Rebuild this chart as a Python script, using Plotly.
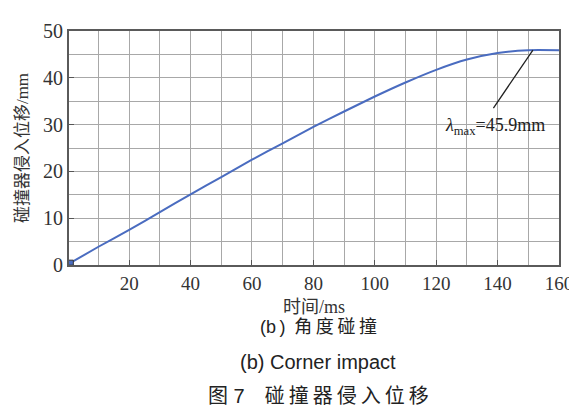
import plotly.graph_objects as go

time_ms = [1, 10, 20, 30, 40, 50, 60, 70, 80, 90, 100, 110, 120, 130, 140, 150, 160]
disp_mm = [0.5, 3.9, 7.5, 11.3, 15.1, 18.8, 22.5, 26.0, 29.5, 32.8, 36.0, 39.0, 41.7, 43.9, 45.3, 45.9, 45.9]
x_ticks = [20, 40, 60, 80, 100, 120, 140, 160]
y_ticks = [0, 10, 20, 30, 40, 50]
lam_max = 45.9

serif = "Liberation Serif, Times New Roman, Noto Sans CJK SC"
sans = "Liberation Sans, Arial, Noto Sans CJK SC"
grid_c = "#a8a8a8"

fig = go.Figure()
fig.add_trace(go.Scatter(x=time_ms, y=disp_mm, mode="lines",
                         line=dict(color="#4a6cc0", width=2, shape="spline", smoothing=0.5), showlegend=False))
fig.add_trace(go.Scatter(x=[time_ms[0]], y=[disp_mm[0]], mode="markers",
                         marker=dict(symbol="square", size=5, color="#4a6cc0", line=dict(color="#333", width=1)),
                         showlegend=False))

fig.update_layout(
    width=577, height=410,
    margin=dict(l=61, r=21, t=20, b=153),
    paper_bgcolor="white", plot_bgcolor="white",
    font=dict(family=serif, size=18, color="#333"),
    xaxis=dict(range=[0.4, 160], tickvals=x_ticks, ticks="inside", ticklen=5, tickcolor="#555",
               showgrid=True, gridcolor=grid_c, gridwidth=1,
               minor=dict(tickvals=list(range(10, 160, 20)), showgrid=True, gridcolor=grid_c, gridwidth=1),
               showline=True, linecolor="#5a5a5a", linewidth=2, mirror=True,
               tickfont=dict(size=19, family=serif, color="#333"),
               title=dict(text="时间/ms", font=dict(size=18, family=serif, color="#333"), standoff=8)),
    yaxis=dict(range=[0, 50], tickvals=y_ticks, ticks="inside", ticklen=5, tickcolor="#555",
               showgrid=True, gridcolor=grid_c, gridwidth=1, zeroline=False,
               minor=dict(tickvals=list(range(5, 50, 10)), showgrid=True, gridcolor=grid_c, gridwidth=1),
               showline=True, linecolor="#5a5a5a", linewidth=2, mirror=True,
               tickfont=dict(size=20, family=serif, color="#333"),
               title=dict(text="碰撞器侵入位移/mm", font=dict(size=17, family=serif, color="#333"), standoff=10)),
)

fig.add_annotation(x=151.5, y=lam_max, ax=138.3, ay=33.2, xref="x", yref="y", axref="x", ayref="y",
                   text="", showarrow=True, arrowhead=0, arrowwidth=1.3, arrowcolor="#222")
fig.add_annotation(x=139.2, y=29.6, xref="x", yref="y", showarrow=False,
                   text="<i>λ</i><sub>max</sub>=45.9mm", font=dict(size=18, family=serif, color="#222"))

ts = "\u2009"
cap = [("(b" + ts + ")" + ts + " " + ts.join("角度碰撞"), 320, 18),
       ("(b) Corner impact", 355, 20),
       ("图" + " " + "7" + "\u3000" + ts.join("碰撞器侵入位移"), 390, 20)]
plot_h = 410 - 20 - 153
for txt, ypx, sz in cap:
    yp = (410 - 153 - ypx) / plot_h
    fig.add_annotation(x=(313 - 61) / (577 - 61 - 21), y=yp, xref="paper", yref="paper", showarrow=False,
                       text=txt, font=dict(size=sz, family=sans, color="#222"), yanchor="middle")

fig.write_html("out.html")
